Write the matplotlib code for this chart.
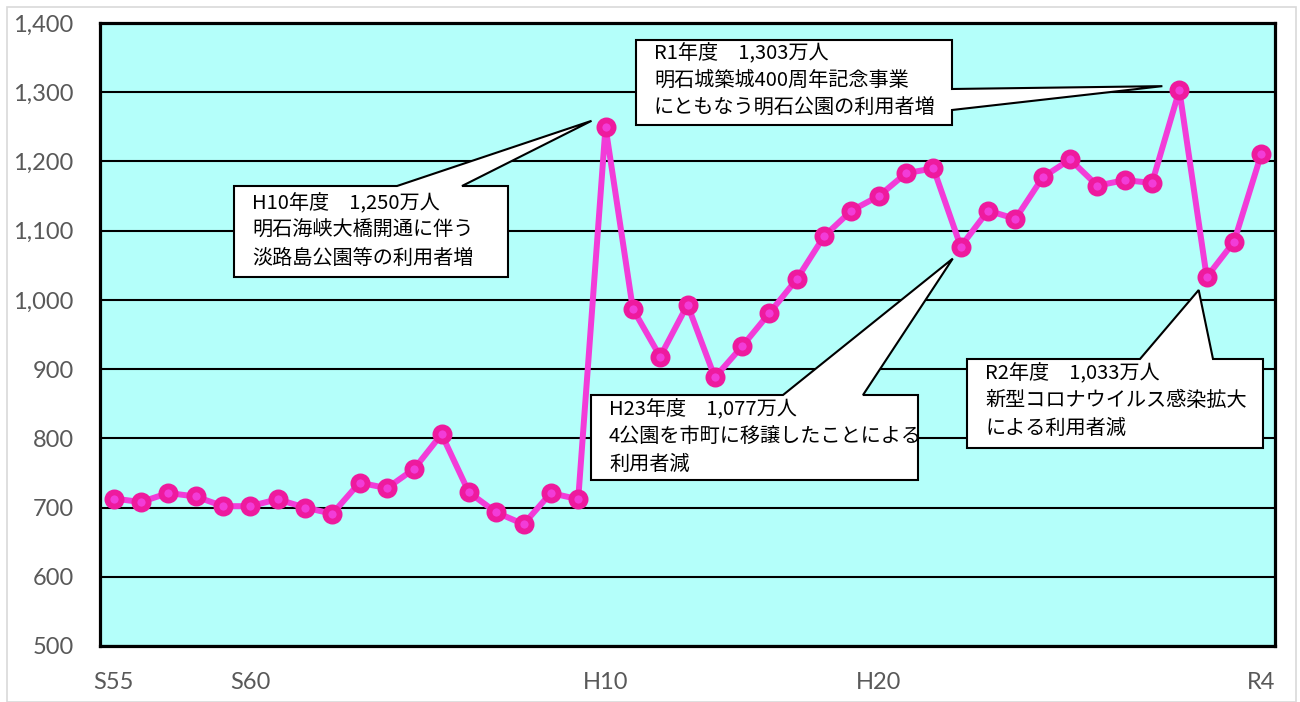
import matplotlib.pyplot as plt
from matplotlib.patches import Polygon, Rectangle
from matplotlib.ticker import FuncFormatter

# ---- data: park visitors per fiscal year (10,000 people) ----
fiscal_years = ([f"S{y}" for y in range(55, 64)]
                + [f"H{y}" for y in range(1, 31)]
                + [f"R{y}" for y in range(1, 5)])
visitors = [713, 708, 721, 716, 702, 702, 712, 700, 691,
            736, 728, 756, 806, 722, 693, 676, 721, 712,
            1250, 987, 918, 993, 888, 933, 981, 1030, 1092, 1129, 1150, 1183,
            1190, 1077, 1129, 1117, 1177, 1203, 1165, 1173, 1169,
            1303, 1033, 1084, 1211]
shown_labels = ["S55", "S60", "H10", "H20", "R4"]

note_years = ["H10", "R1", "H23", "R2"]
note_texts = [
    ["H10年度　1,250万人", "明石海峡大橋開通に伴う", "淡路島公園等の利用者増"],
    ["R1年度　1,303万人", "明石城築城400周年記念事業", "にともなう明石公園の利用者増"],
    ["H23年度　1,077万人", "4公園を市町に移譲したことによる", "利用者減"],
    ["R2年度　1,033万人", "新型コロナウイルス感染拡大", "による利用者減"],
]

# ---- layout (pixels, origin top-left) ----
W, H = 1300, 702
# box: (left, top, right, bottom), wedge edge, wedge base, tip offset from point
boxes = [
    ((234, 186, 508, 277), "top", (397, 462), (-14, -6)),
    ((636, 40, 952, 125), "right", (89, 110), (-17, -4)),
    ((591, 395, 918, 480), "top", (783, 863), (-8, 12)),
    ((967, 359, 1263, 448), "top", (1140, 1213), (-8, 13)),
]
first_line = [203, 53, 409, 373]
line_step = 27.5

BG = "#B4FFFA"
LINE = "#F23CD8"
EDGE = "#EE1A9E"
GRAY = "#595959"
JP = ["Noto Sans CJK JP", "DejaVu Sans"]


def fig_xy(x, y):
    return (x / W, 1 - y / H)


fig = plt.figure(figsize=(W / 100, H / 100), dpi=100)
fig.patches.append(Rectangle((6.5 / W, 0), 1289.5 / W, 1 - 6.5 / H,
                             transform=fig.transFigure, fill=False,
                             edgecolor="#D9D9D9", linewidth=1.2))

ax = fig.add_axes([100 / W, 1 - 646 / H, 1175 / W, 623 / H])
ax.set_facecolor(BG)

x = list(range(len(fiscal_years)))
ax.plot(x, visitors, color=LINE, linewidth=4.3, marker="o", markersize=10.2,
        markerfacecolor=LINE, markeredgecolor=EDGE, markeredgewidth=4.2,
        zorder=3)

ax.set_xlim(-0.5, len(fiscal_years) - 0.5)
ax.set_ylim(500, 1400)
ax.set_yticks(range(500, 1401, 100))
ax.yaxis.set_major_formatter(FuncFormatter(lambda v, _: f"{int(v):,}"))
ax.set_xticks([fiscal_years.index(s) for s in shown_labels])
ax.set_xticklabels(shown_labels)
ax.grid(axis="y", color="black", linewidth=1.5, zorder=1)
ax.set_axisbelow(True)
for sp in ax.spines.values():
    sp.set_linewidth(2.3)
    sp.set_color("black")
ax.tick_params(axis="both", length=0, colors=GRAY, labelsize=17)
ax.tick_params(axis="y", pad=19)
ax.tick_params(axis="x", pad=19)
for lab in ax.get_xticklabels() + ax.get_yticklabels():
    lab.set_fontfamily("Lato")

# ---- callouts ----
for year, lines, (rect, side, base, off), y0 in zip(note_years, note_texts,
                                                    boxes, first_line):
    i = fiscal_years.index(year)
    dx, dy = ax.transData.transform((i, visitors[i]))
    tip = (dx + off[0], H - dy + off[1])
    l, t, r, b = rect
    if side == "top":
        pts = [(l, t), (base[0], t), tip, (base[1], t), (r, t), (r, b), (l, b)]
    else:
        pts = [(l, t), (r, t), (r, base[0]), tip, (r, base[1]), (r, b), (l, b)]
    poly = Polygon([fig_xy(px, py) for px, py in pts], closed=True,
                   transform=fig.transFigure, facecolor="white",
                   edgecolor="black", linewidth=1.5, zorder=5)
    fig.patches.append(poly)
    for k, txt in enumerate(lines):
        fx, fy = fig_xy(l + 18, y0 + k * line_step)
        fig.text(fx, fy, txt, fontsize=14.5, family=JP, color="black",
                 ha="left", va="center", zorder=6)

fig.savefig("out.png", dpi=100)
